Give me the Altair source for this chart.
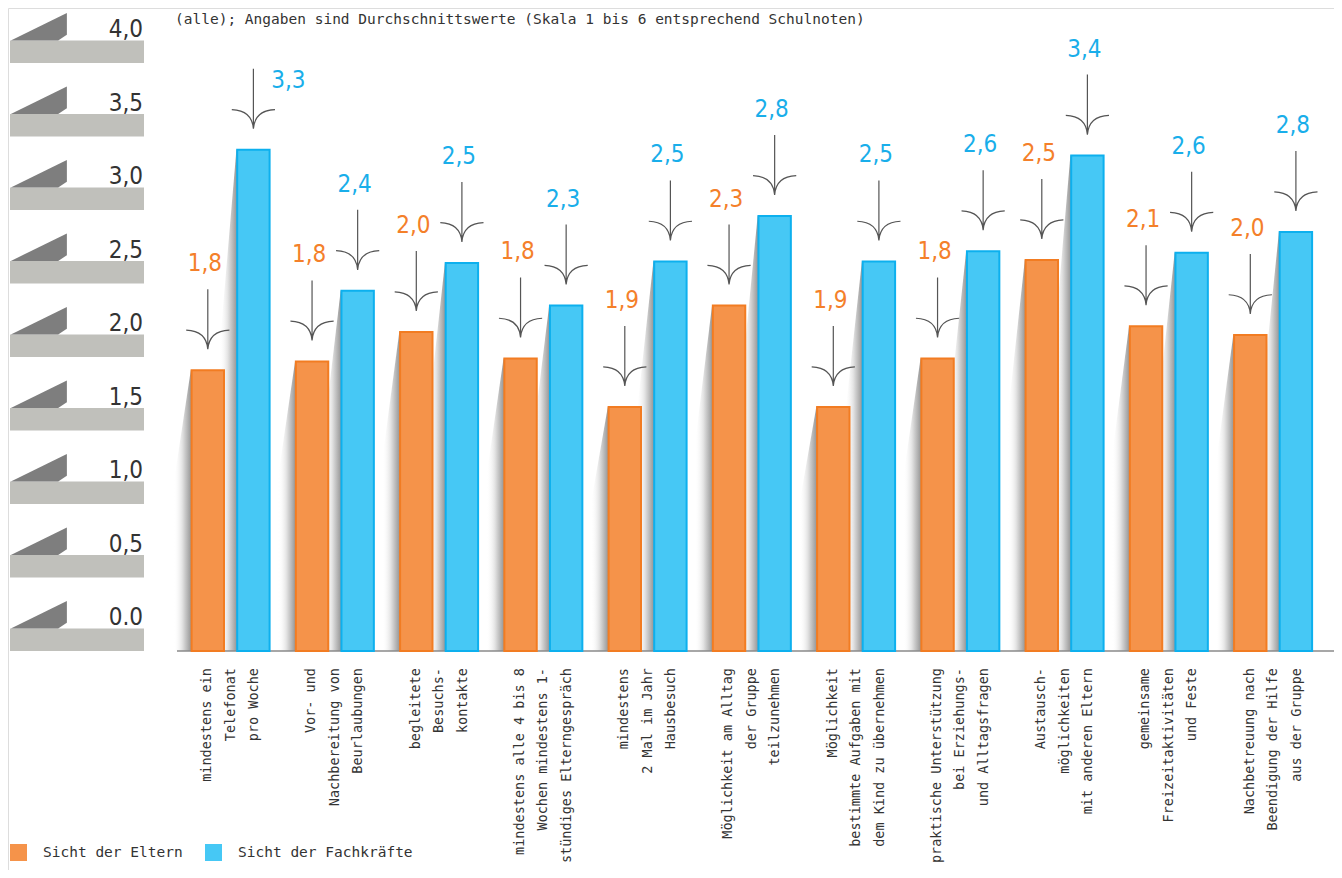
import altair as alt
import pandas as pd

# ---------------- data ----------------
categories = [
    "mindestens ein\nTelefonat\npro Woche",
    "Vor- und\nNachbereitung von\nBeurlaubungen",
    "begleitete\nBesuchs-\nkontakte",
    "mindestens alle 4 bis 8\nWochen mindestens 1-\nstündiges Elterngespräch",
    "mindestens\n2 Mal im Jahr\nHausbesuch",
    "Möglichkeit am Alltag\nder Gruppe\nteilzunehmen",
    "Möglichkeit\nbestimmte Aufgaben mit\ndem Kind zu übernehmen",
    "praktische Unterstützung\nbei Erziehungs-\nund Alltagsfragen",
    "Austausch-\nmöglichkeiten\nmit anderen Eltern",
    "gemeinsame\nFreizeitaktivitäten\nund Feste",
    "Nachbetreuung nach\nBeendigung der Hilfe\naus der Gruppe",
]
series = ["Sicht der Eltern", "Sicht der Fachkräfte"]
eltern_labels = ["1,8", "1,8", "2,0", "1,8", "1,9", "2,3", "1,9", "1,8", "2,5", "2,1", "2,0"]
fach_labels = ["3,3", "2,4", "2,5", "2,3", "2,5", "2,8", "2,5", "2,6", "3,4", "2,6", "2,8"]
# bar heights as drawn in the picture (read against the left scale)
eltern_bars = [1.91, 1.97, 2.17, 1.99, 1.66, 2.35, 1.66, 1.99, 2.66, 2.21, 2.15]
fach_bars = [3.41, 2.45, 2.64, 2.35, 2.65, 2.96, 2.65, 2.72, 3.37, 2.71, 2.85]
tick_values = [0.0, 0.5, 1.0, 1.5, 2.0, 2.5, 3.0, 3.5, 4.0]
tick_labels = ["0.0", "0,5", "1,0", "1,5", "2,0", "2,5", "3,0", "3,5", "4,0"]
title_text = "(alle);  Angaben sind Durchschnittswerte (Skala 1 bis 6 entsprechend Schulnoten)"

# ---------------- layout ----------------
W, H = 1326, 862
PX_X, PX_Y = 104.25, 147.0
X0, Y0 = 222.6, 643.0
LINE_H = 23.5


def ux(px):
    return px / PX_X


def uy(px):
    return px / PX_Y


xs = alt.Scale(domain=[-X0 / PX_X, (W - X0) / PX_X], nice=False, zero=False)
ys = alt.Scale(domain=[-(H - Y0) / PX_Y, Y0 / PX_Y], nice=False, zero=False)

ORANGE_FILL, ORANGE_STROKE, ORANGE_TEXT = "#F5934A", "#F27C22", "#F4802A"
BLUE_FILL, BLUE_STROKE, BLUE_TEXT = "#46C8F5", "#0DB0EE", "#19AEEA"
MONO = "DejaVu Sans Mono"
COND = "DejaVu Sans Condensed"

rows = []
for i in range(len(categories)):
    for s, (bars, labs, off) in enumerate(
        [(eltern_bars, eltern_labels, -22.8), (fach_bars, fach_labels, 22.8)]
    ):
        pos = i + ux(off)
        v = bars[i]
        lx, ly = pos + ux(-3), v + uy(106)
        if i == 0 and s == 1:
            lx, ly = pos + ux(35), v + uy(69)
        rows.append(dict(series=series[s], pos=pos, x1=pos - ux(16.2), x2=pos + ux(16.2),
                         v=v, zero=0.0, label=labs[i], lx=lx, ly=ly,
                         ay=v + uy(51), key=f"{i}-{s}"))
bars_df = pd.DataFrame(rows)

shadow_rows = []
for r in rows:
    left = r["pos"] - ux(17)
    shadow_rows.append(dict(id=r["key"], x=left - ux(17), y=r["v"] * 0.6))
    shadow_rows.append(dict(id=r["key"], x=left, y=r["v"]))
    shadow_rows.append(dict(id=r["key"], x=r["pos"], y=r["v"]))
shadow_df = pd.DataFrame(shadow_rows)

n_lines = [c.count("\n") + 1 for c in categories]
cat_df = pd.DataFrame(dict(
    pos=[i - ux((n - 1) * LINE_H / 2) for i, n in enumerate(n_lines)],
    cat=categories,
    y=[-uy(17)] * len(categories)))

tick_df = pd.DataFrame(dict(v=tick_values, label=tick_labels))
tick_df["vt"] = tick_df["v"] + uy(22.6)
tick_df["tri"] = tick_df["v"] + uy(36.3)
tick_df["ty"] = tick_df["v"] + uy(26)

# ---------------- layers ----------------
shelf = alt.Chart(tick_df).mark_rect(color="#C0C0BB").encode(
    x=alt.value(2), x2=alt.value(136),
    y=alt.Y("v:Q", scale=ys, axis=None), y2="vt:Q")

wedge = alt.Chart(tick_df).mark_point(
    shape="M -1 0.49 L 1 -0.49 L 1 0.29 L 0.69 0.49 Z",
    size=3136, filled=True, color="#7E7E7E", opacity=1, strokeWidth=0
).encode(x=alt.value(30.85), y=alt.Y("tri:Q", scale=ys, axis=None))

tick_text = alt.Chart(tick_df).mark_text(
    align="right", baseline="alphabetic", font=COND,
    fontSize=24, color="#333333"
).encode(x=alt.value(135), y=alt.Y("ty:Q", scale=ys, axis=None), text="label:N")

shadow = alt.Chart(shadow_df).mark_area(
    color=alt.Gradient(
        gradient="linear", x1=0, x2=1, y1=0, y2=0,
        stops=[alt.GradientStop(color="rgba(255,255,255,0)", offset=0),
               alt.GradientStop(color="#e2e2e2", offset=0.25),
               alt.GradientStop(color="#999999", offset=0.5),
               alt.GradientStop(color="#999999", offset=1)]),
    interpolate="linear"
).encode(x=alt.X("x:Q", scale=xs, axis=None),
         y=alt.Y("y:Q", scale=ys, axis=None),
         y2=alt.datum(0), detail="id:N")

base_rule = alt.Chart(pd.DataFrame(dict(v=[0.0]))).mark_rule(
    color="#8a8a8a", strokeWidth=1.5
).encode(x=alt.value(169), x2=alt.value(W), y=alt.Y("v:Q", scale=ys, axis=None))

bars = alt.Chart(bars_df).mark_rect(strokeWidth=2).encode(
    x=alt.X("x1:Q", scale=xs, axis=None), x2="x2:Q",
    y=alt.Y("v:Q", scale=ys, axis=None), y2="zero:Q",
    fill=alt.Fill("series:N", scale=alt.Scale(domain=series, range=[ORANGE_FILL, BLUE_FILL]),
                  legend=alt.Legend(orient="none", legendX=2, legendY=836, direction="horizontal",
                                    title=None, symbolType="square", symbolSize=289,
                                    symbolStrokeWidth=0, labelFont=MONO, labelFontSize=14.5,
                                    labelColor="#333333", labelOffset=16, columnPadding=22,
                                    labelLimit=400)),
    stroke=alt.Stroke("series:N", scale=alt.Scale(domain=series, range=[ORANGE_STROKE, BLUE_STROKE]),
                      legend=None),
)

arrows = alt.Chart(bars_df).mark_point(
    shape="M 0 -1 L 0 1 M -0.72 0.36 Q -0.05 0.38 0 1 M 0.72 0.36 Q 0.05 0.38 0 1",
    size=3600, filled=False, color="#555555", strokeWidth=1.2, opacity=1
).encode(x=alt.X("pos:Q", scale=xs, axis=None), y=alt.Y("ay:Q", scale=ys, axis=None))

value_text = alt.Chart(bars_df).mark_text(
    align="center", baseline="middle", font=COND, fontSize=24
).encode(
    x=alt.X("lx:Q", scale=xs, axis=None), y=alt.Y("ly:Q", scale=ys, axis=None),
    text="label:N",
    color=alt.Color("series:N", scale=alt.Scale(domain=series, range=[ORANGE_TEXT, BLUE_TEXT]),
                    legend=None),
)

cat_text = alt.Chart(cat_df).mark_text(
    angle=270, align="right", baseline="middle", font=MONO, fontSize=13.5,
    lineHeight=LINE_H, lineBreak="\n", color="#333333"
).encode(x=alt.X("pos:Q", scale=xs, axis=None), y=alt.Y("y:Q", scale=ys, axis=None),
         text="cat:N")

title = alt.Chart(pd.DataFrame(dict(t=[title_text]))).mark_text(
    align="left", baseline="middle", font=MONO, fontSize=14.5, color="#333333"
).encode(x=alt.value(167), y=alt.value(12), text="t:N")

chart = alt.layer(
    shelf, wedge, tick_text, shadow, base_rule, bars, arrows, value_text, cat_text, title
).resolve_scale(color="independent", fill="independent", stroke="independent").properties(
    width=W, height=H, padding=0, autosize=alt.AutoSizeParams(type="none")
).configure_view(stroke=None).configure(background="white")

chart.save("out.html", embed_options={"renderer": "svg", "actions": False})
